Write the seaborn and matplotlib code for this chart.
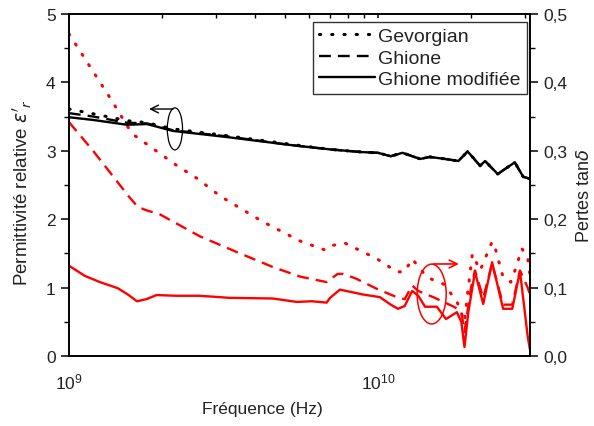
import numpy as np
import pandas as pd
import matplotlib
matplotlib.use("Agg")
import matplotlib.pyplot as plt
import seaborn as sns
from matplotlib.patches import Ellipse
from matplotlib.ticker import FixedLocator, FixedFormatter, LogLocator, NullFormatter

# ---------------- data (frequency in GHz) ----------------
f_eps = [1.0, 1.2, 1.54, 1.79, 2.17, 3.25, 5.3, 7.0, 8.9, 10.0, 11.0, 12.0, 13.7,
         14.7, 16.5, 18.2, 19.5, 21.4, 22.2, 24.4, 27.7, 29.5, 31.0]
eps_mod = [3.49, 3.45, 3.38, 3.39, 3.29, 3.20, 3.08, 3.02, 2.98, 2.97, 2.92, 2.97, 2.88,
           2.91, 2.88, 2.85, 2.99, 2.78, 2.85, 2.66, 2.83, 2.62, 2.59]
eps_gev = [3.61, 3.54, 3.44, 3.41, 3.32, 3.22, 3.09, 3.02, 2.98, 2.97, 2.92, 2.97, 2.88,
           2.91, 2.88, 2.85, 2.99, 2.78, 2.85, 2.66, 2.83, 2.62, 2.59]
eps_ghi = [3.55, 3.50, 3.41, 3.40, 3.30, 3.21, 3.08, 3.02, 2.98, 2.97, 2.92, 2.97, 2.88,
           2.91, 2.88, 2.85, 2.99, 2.78, 2.85, 2.66, 2.83, 2.62, 2.59]

f_tan_mod = [1.0, 1.127, 1.26, 1.44, 1.55, 1.66, 1.78, 1.92, 2.24, 2.65, 3.3, 4.57, 5.46,
             6.1, 6.82, 7.0, 7.53, 8.91, 10.14, 11.0, 11.6, 12.2, 12.9, 13.5, 14.2, 15.5,
             16.6, 18.0, 18.6, 19.05, 19.6, 20.6, 21.9, 23.4, 25.4, 27.2, 28.8, 30.5, 31.0]
tan_mod = [0.132, 0.117, 0.108, 0.099, 0.090, 0.080, 0.083, 0.089, 0.088, 0.088, 0.085,
           0.084, 0.079, 0.080, 0.078, 0.085, 0.097, 0.090, 0.086, 0.075, 0.069, 0.073,
           0.095, 0.088, 0.072, 0.072, 0.054, 0.064, 0.050, 0.013, 0.064, 0.123, 0.076,
           0.137, 0.069, 0.069, 0.124, 0.029, 0.010]

f_tan_ghi = [1.0, 1.197, 1.57, 1.67, 1.78, 1.97, 2.65, 3.49, 4.57, 5.6, 6.82, 7.0, 7.41,
             7.71, 8.5, 9.93, 11.5, 12.2, 12.9, 13.5, 15.1, 17.4, 18.6, 19.05, 20.0, 20.6,
             21.9, 23.4, 25.4, 27.2, 28.8, 30.5, 31.0]
tan_ghi = [0.342, 0.300, 0.232, 0.218, 0.213, 0.207, 0.175, 0.152, 0.130, 0.116, 0.108,
           0.112, 0.120, 0.120, 0.113, 0.098, 0.086, 0.083, 0.103, 0.095, 0.086, 0.073,
           0.066, 0.035, 0.100, 0.125, 0.085, 0.135, 0.075, 0.075, 0.125, 0.100, 0.090]

f_tan_gev = [1.0, 1.36, 1.60, 2.24, 2.61, 3.08, 3.32, 4.25, 5.6, 6.73, 7.0, 7.82, 9.93,
             11.5, 12.2, 12.9, 13.5, 14.4, 16.3, 18.0, 19.05, 19.6, 20.2, 21.4, 23.4,
             24.0, 25.4, 26.9, 28.0, 29.2, 30.5, 31.0]
tan_gev = [0.471, 0.377, 0.325, 0.278, 0.259, 0.234, 0.225, 0.196, 0.168, 0.155, 0.161,
           0.165, 0.142, 0.123, 0.123, 0.142, 0.131, 0.115, 0.105, 0.080, 0.050, 0.100,
           0.149, 0.125, 0.167, 0.156, 0.115, 0.108, 0.130, 0.157, 0.144, 0.120]

left_ticks = [0, 1, 2, 3, 4, 5]
left_labels = ["0", "1", "2", "3", "4", "5"]
right_ticks = [0.0, 0.1, 0.2, 0.3, 0.4, 0.5]
right_labels = ["0,0", "0,1", "0,2", "0,3", "0,4", "0,5"]
legend_labels = ["Gevorgian", "Ghione", "Ghione modifiée"]
x_label = "Fréquence (Hz)"
y_label = r"Permittivité relative $\varepsilon'_r$"
y2_label = r"Pertes tan$\delta$"

# ---------------- style ----------------
sns.set_theme(style="white")
plt.rcParams["font.family"] = ["Liberation Sans", "DejaVu Sans"]
plt.rcParams["mathtext.fontset"] = "dejavusans"

fig = plt.figure(figsize=(5.94, 4.27), dpi=100)
ax = fig.add_axes([0.116, 0.164, 0.776, 0.801])
ax2 = ax.twinx()

dot = (0, (0.4, 3.6))
dash = (0, (5, 3))
lw = 1.7


def ghz(v):
    return [x * 1e9 for x in v]


# red loss tangent (right axis)
sns.lineplot(x=ghz(f_tan_gev), y=tan_gev, ax=ax2, color="red", lw=2.2,
             linestyle=dot, dash_capstyle="round", estimator=None, sort=False)
sns.lineplot(x=ghz(f_tan_ghi), y=tan_ghi, ax=ax2, color="red", lw=lw,
             linestyle=dash, estimator=None, sort=False)
sns.lineplot(x=ghz(f_tan_mod), y=tan_mod, ax=ax2, color="red", lw=lw,
             estimator=None, sort=False)

# black permittivity (left axis)
sns.lineplot(x=ghz(f_eps), y=eps_gev, ax=ax, color="black", lw=2.2,
             linestyle=dot, dash_capstyle="round", estimator=None, sort=False,
             label=legend_labels[0])
sns.lineplot(x=ghz(f_eps), y=eps_ghi, ax=ax, color="black", lw=lw,
             linestyle=dash, estimator=None, sort=False, label=legend_labels[1])
sns.lineplot(x=ghz(f_eps), y=eps_mod, ax=ax, color="black", lw=lw,
             estimator=None, sort=False, label=legend_labels[2])

ax.set_zorder(ax2.get_zorder() + 1)
ax.patch.set_visible(False)

ax.set_xscale("log")
ax.set_xlim(1e9, 3.1e10)
ax.set_ylim(0, 5)
ax2.set_ylim(0, 0.5)

ax.yaxis.set_major_locator(FixedLocator(left_ticks))
ax.yaxis.set_major_formatter(FixedFormatter(left_labels))
ax.yaxis.set_minor_locator(FixedLocator(np.arange(0.5, 5, 1.0)))
ax2.yaxis.set_major_locator(FixedLocator(right_ticks))
ax2.yaxis.set_major_formatter(FixedFormatter(right_labels))
ax2.yaxis.set_minor_locator(FixedLocator(np.arange(0.05, 0.5, 0.1)))

ax.xaxis.set_minor_locator(LogLocator(base=10, subs=np.arange(2, 10)))
ax.xaxis.set_minor_formatter(NullFormatter())

for a in (ax, ax2):
    for s in a.spines.values():
        s.set_color("black")
        s.set_linewidth(1.2)

ax.tick_params(axis="both", which="major", direction="out", length=6, width=1.1,
               color="black", labelsize=12.5, labelcolor="#222222")
ax.tick_params(axis="both", which="minor", direction="out", length=3.5, width=1.0,
               color="black")
ax.tick_params(axis="x", which="both", top=True)
ax.tick_params(axis="x", which="major", pad=5)
ax2.tick_params(axis="y", which="major", direction="out", length=6, width=1.1,
                color="black", labelsize=12.5, labelcolor="#222222")
ax2.tick_params(axis="y", which="minor", direction="out", length=3.5, width=1.0,
                color="black")
# top ticks point inward
for t in ax.xaxis.get_major_ticks() + ax.xaxis.get_minor_ticks():
    t.tick2line.set_marker(3)
    t.tick2line.set_markersize(3)

ax.set_xlabel(x_label, fontsize=12.5, color="#222222")
ax.xaxis.set_label_coords(0.42, -0.132)
ax.set_ylabel(y_label, fontsize=13.5, color="#222222")
ax2.set_ylabel(y2_label, fontsize=13, color="#222222")
ax.yaxis.set_label_coords(-0.076, 0.48)
ax2.yaxis.set_label_coords(1.1, 0.47)

leg = ax.legend(loc="upper right", fontsize=14, frameon=True, fancybox=False,
                handlelength=2.9, handletextpad=0.15, borderpad=0.3,
                labelspacing=0.2, borderaxespad=0.0,
                bbox_to_anchor=(0.993, 0.977))
leg.get_frame().set_edgecolor("black")
leg.get_frame().set_linewidth(1.0)
for t in leg.get_texts():
    t.set_color("#222222")

# annotations: ellipses + arrows
el1 = Ellipse((0.230, 0.664), 0.033, 0.123, transform=ax.transAxes, fill=False,
              edgecolor="black", lw=0.9)
ax.add_patch(el1)
ax.annotate("", xy=(0.168, 0.722), xytext=(0.232, 0.722), xycoords="axes fraction",
            arrowprops=dict(arrowstyle="->", color="black", lw=1.0, mutation_scale=14))
el2 = Ellipse((0.787, 0.181), 0.063, 0.175, transform=ax.transAxes, fill=False,
              edgecolor="red", lw=1.1)
ax.add_patch(el2)
ax.annotate("", xy=(0.852, 0.269), xytext=(0.785, 0.269), xycoords="axes fraction",
            arrowprops=dict(arrowstyle="->", color="red", lw=1.2, mutation_scale=14))

fig.savefig("out.png", dpi=100)
